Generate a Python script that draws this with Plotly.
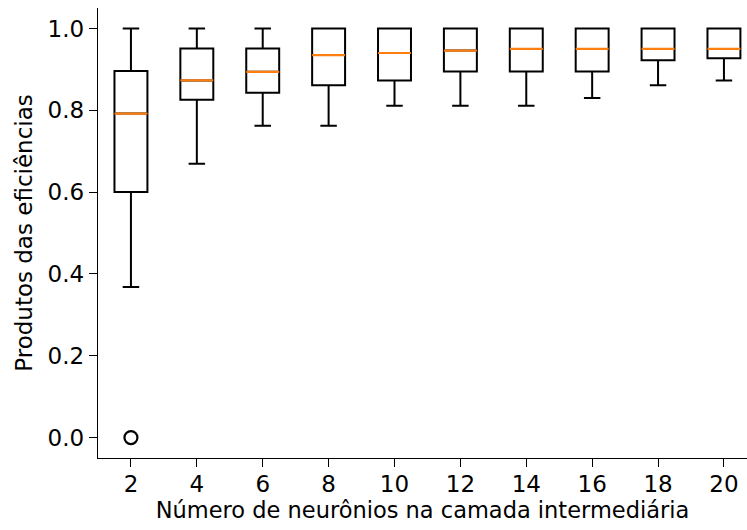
import plotly.graph_objects as go

neurons = [2, 4, 6, 8, 10, 12, 14, 16, 18, 20]
lower_whisker = [0.368, 0.669, 0.762, 0.762, 0.811, 0.811, 0.811, 0.830, 0.861, 0.873]
q1 = [0.600, 0.826, 0.843, 0.861, 0.873, 0.895, 0.895, 0.895, 0.922, 0.927]
median = [0.792, 0.873, 0.894, 0.935, 0.940, 0.946, 0.950, 0.950, 0.950, 0.950]
q3 = [0.896, 0.951, 0.951, 1.000, 1.000, 1.000, 1.000, 1.000, 1.000, 1.000]
upper_whisker = [1.0, 1.0, 1.0, 1.0, 1.0, 1.0, 1.0, 1.0, 1.0, 1.0]
outlier_x = [2]
outlier_y = [0.0]

y_ticks = [0.0, 0.2, 0.4, 0.6, 0.8, 1.0]
y_ticklabels = ["0.0", "0.2", "0.4", "0.6", "0.8", "1.0"]

BOX_W = 1.0
FONT = "DejaVu Sans"

fig = go.Figure()
fig.add_trace(go.Box(
    x=neurons, q1=q1, median=median, q3=q3,
    lowerfence=lower_whisker, upperfence=upper_whisker,
    width=BOX_W, whiskerwidth=0.5,
    line=dict(color="black", width=2),
    fillcolor="rgba(255,255,255,0)",
    boxpoints=False, showlegend=False, hoverinfo="skip",
))

# orange median lines
mx, my = [], []
for xv, m in zip(neurons, median):
    mx += [xv - BOX_W / 2, xv + BOX_W / 2, None]
    my += [m, m, None]
fig.add_trace(go.Scatter(
    x=mx, y=my, mode="lines",
    line=dict(color="#ff7f0e", width=2.2),
    showlegend=False, hoverinfo="skip",
))

fig.add_trace(go.Scatter(
    x=outlier_x, y=outlier_y, mode="markers",
    marker=dict(symbol="circle-open", size=13, color="black", line=dict(width=2.2)),
    showlegend=False, hoverinfo="skip",
))

fig.update_layout(
    width=747, height=530,
    margin=dict(l=98, r=0, t=8, b=72, autoexpand=False),
    paper_bgcolor="white", plot_bgcolor="white",
    font=dict(family=FONT, size=23, color="black"),
    xaxis=dict(
        range=[1, 20.7], tickmode="array", tickvals=neurons,
        ticktext=[str(n) for n in neurons], automargin=False,
        ticks="outside", ticklen=8, tickwidth=1.4, tickcolor="black",
        showline=True, linecolor="black", linewidth=1.4,
        showgrid=False, zeroline=False, tickfont=dict(size=23),
        ticklabelstandoff=-3,
        title=dict(text="Número de neurônios na camada intermediária", standoff=0,
                   font=dict(size=22.5)),
    ),
    yaxis=dict(
        range=[-0.05, 1.05], tickmode="array", tickvals=y_ticks, ticktext=y_ticklabels,
        automargin=False,
        ticks="outside", ticklen=8, tickwidth=1.4, tickcolor="black",
        showline=True, linecolor="black", linewidth=1.4,
        showgrid=False, zeroline=False, tickfont=dict(size=23),
        title=dict(text="Produtos das eficiências", standoff=8, font=dict(size=23)),
    ),
)

fig.write_html("out.html", config={"displayModeBar": False},
               post_script="document.body.style.margin='0';")
